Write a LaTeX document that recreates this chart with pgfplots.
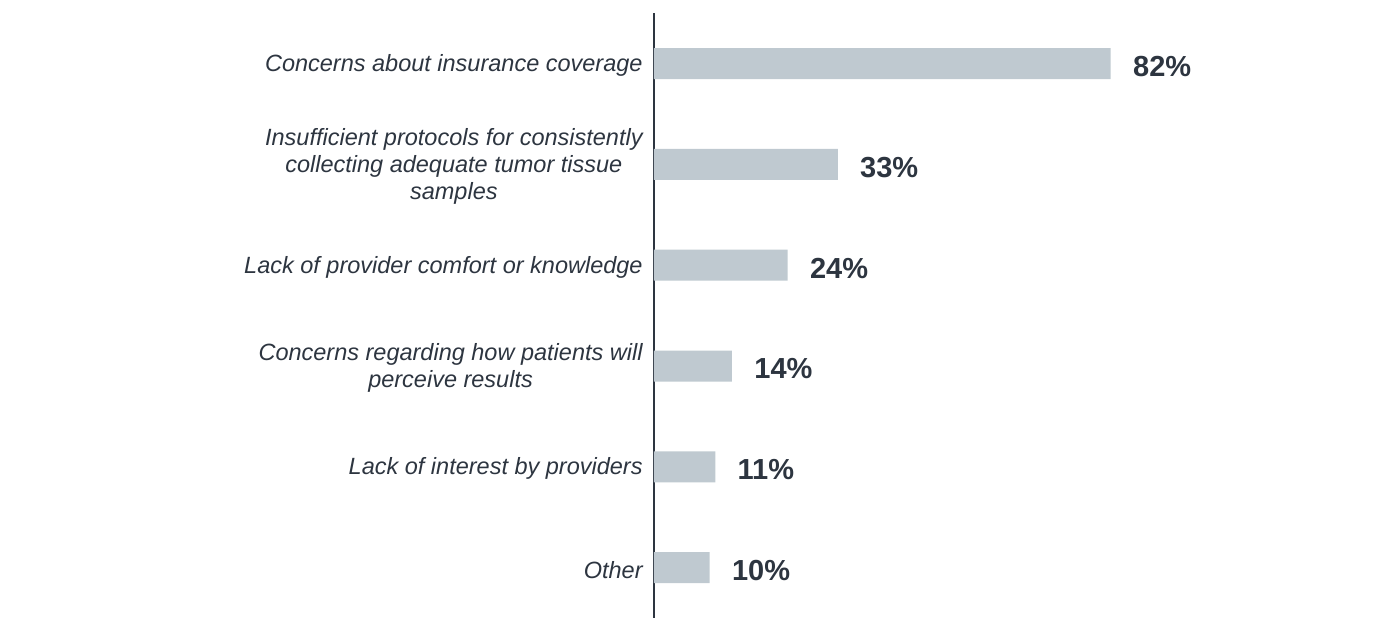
\documentclass[border=0pt]{standalone}
\usepackage{pgfplots}
\pgfplotsset{compat=1.18}
\usepackage{fontspec}
\setmainfont{Liberation Sans}
\definecolor{barc}{HTML}{BFC9D0}
\definecolor{txt}{HTML}{2D3540}
\begin{document}
\begin{tikzpicture}
\begin{axis}[
    scale only axis,
    width=278.5pt, height=302.4pt,
    xbar, bar width=15.5pt,
    xmin=0, xmax=100,
    ymin=-0.5, ymax=5.5,
    y dir=reverse,
    hide x axis,
    axis y line*=left,
    y axis line style={-, color=txt, line width=1pt},
    ytick={0,1,2,3,4,5},
    major tick length=0pt,
    yticklabels={
        {Concerns about insurance coverage},
        {Insufficient protocols for consistently\\collecting adequate tumor tissue\\samples},
        {Lack of provider comfort or knowledge},
        {Concerns regarding how patients will\\perceive results},
        {Lack of interest by providers},
        {Other}},
    yticklabel style={align=center, text=txt, inner sep=0pt, xshift=-5.5pt, yshift=-1pt,
        font=\fontsize{11.75}{13.5}\selectfont\itshape},
    /pgf/number format/assume math mode=true,
    point meta=x,
    nodes near coords={\pgfmathprintnumber{\pgfplotspointmeta}\%},
    nodes near coords style={anchor=west, inner sep=0pt, xshift=11pt, yshift=-1.5pt,
        text=txt, font=\fontsize{14.5}{16}\selectfont\bfseries},
    clip=false,
]
\addplot[fill=barc, draw=none] coordinates {
    (82,0) (33,1) (24,2) (14,3) (11,4) (10,5)
};
\end{axis}
\pgfresetboundingbox
\useasboundingbox ([shift={(-327pt,-12pt)}]current axis.south west)
    rectangle ([shift={(373pt,309pt)}]current axis.south west);
\end{tikzpicture}
\end{document}
